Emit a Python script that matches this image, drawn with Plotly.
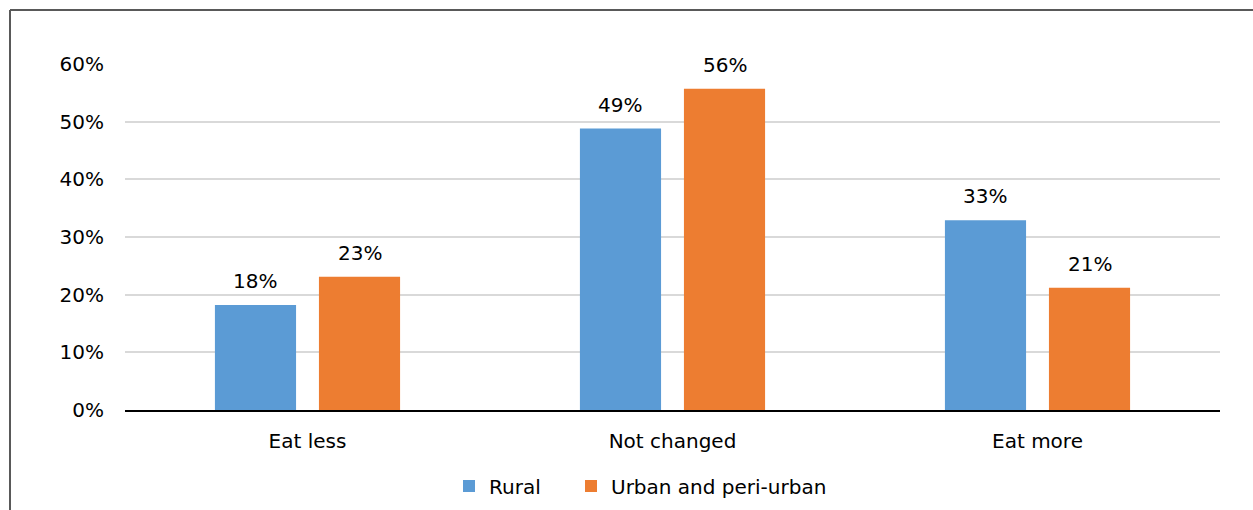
import plotly.graph_objects as go

categories = ["Eat less", "Not changed", "Eat more"]
rural = [18.2, 48.8, 32.9]
urban = [23.1, 55.7, 21.2]
rural_labels = ["18%", "49%", "33%"]
urban_labels = ["23%", "56%", "21%"]
y_ticks = [0, 10, 20, 30, 40, 50, 60]
y_tick_labels = ["0%", "10%", "20%", "30%", "40%", "50%", "60%"]

FONT = "DejaVu Sans, sans-serif"
FS = 20

fig = go.Figure()
fig.add_trace(go.Bar(name="Rural", x=categories, y=rural, marker_color="#5B9BD5",
                     marker_line_width=0, legend="legend"))
fig.add_trace(go.Bar(name="Urban and peri-urban", x=categories, y=urban,
                     marker_color="#ED7D31", marker_line_width=0, legend="legend2"))

L, R, T, B = 125, 33, 64, 100
W, H = 1253, 510
pw, ph = W - L - R, H - T - B

def px_x(p):
    return (p - L) / pw

def px_y(p):
    return (H - B - p) / ph

slot = pw / 3 * (1 - 0.43) / 2
annotations = []
for vals, labels, sign in ((rural, rural_labels, -1), (urban, urban_labels, 1)):
    for c, v, t in zip(categories, vals, labels):
        annotations.append(dict(x=c, y=v, xref="x", yref="y", text=t, showarrow=False,
                                xshift=sign * slot / 2, yshift=24, yanchor="middle",
                                font=dict(size=FS, color="#000", family=FONT)))

leg_common = dict(orientation="h", xanchor="left", xref="container",
                  y=1 - 486 / H, yref="container", yanchor="middle",
                  font=dict(size=FS, family=FONT), itemwidth=30, itemclick=False,
                  bgcolor="rgba(0,0,0,0)")

fig.update_layout(
    width=W, height=H,
    margin=dict(l=L, r=R, t=T, b=B, autoexpand=False),
    paper_bgcolor="white", plot_bgcolor="white",
    font=dict(family=FONT, size=FS, color="#000"),
    barmode="group", bargap=0.43, bargroupgap=0.22,
    showlegend=True,
    legend=dict(x=(469 - 20) / W, **leg_common),
    legend2=dict(x=(591 - 20) / W, **leg_common),
    xaxis=dict(showgrid=False, showline=True, linecolor="#000", linewidth=1.5,
               ticks="", ticklabelstandoff=12, tickfont=dict(size=FS)),
    yaxis=dict(range=[0, 60], tickmode="array", tickvals=y_ticks, ticktext=y_tick_labels,
               showgrid=True, gridcolor="#D9D9D9", gridwidth=1.5, zeroline=False,
               showline=False, ticks="", ticklabelstandoff=20, tickfont=dict(size=FS)),
    annotations=annotations,
    shapes=[
        dict(type="line", xref="paper", yref="paper", x0=px_x(10), x1=px_x(10),
             y0=px_y(10), y1=px_y(515), line=dict(color="#595959", width=2)),
        dict(type="line", xref="paper", yref="paper", x0=px_x(10), x1=px_x(1260),
             y0=px_y(10), y1=px_y(10), line=dict(color="#595959", width=2)),
    ],
)

fig.write_html("out.html")
